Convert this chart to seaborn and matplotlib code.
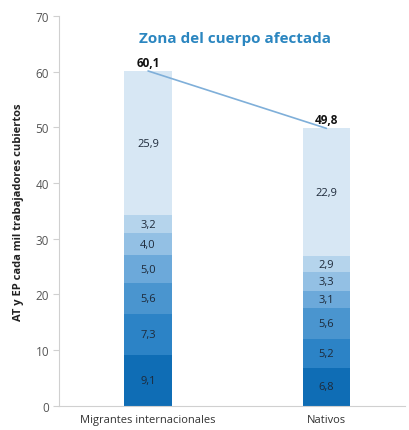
import numpy as np
import pandas as pd
import matplotlib
matplotlib.use("Agg")
import matplotlib.pyplot as plt
import seaborn as sns

categories = ["Migrantes internacionales", "Nativos"]
# segments from bottom to top
migrantes = [9.1, 7.3, 5.6, 5.0, 4.0, 3.2, 25.9]
nativos = [6.8, 5.2, 5.6, 3.1, 3.3, 2.9, 22.9]
totales = [60.1, 49.8]
seg_labels_m = ["9,1", "7,3", "5,6", "5,0", "4,0", "3,2", "25,9"]
seg_labels_n = ["6,8", "5,2", "5,6", "3,1", "3,3", "2,9", "22,9"]
total_labels = ["60,1", "49,8"]
colors = ["#0f6db5", "#2c83c6", "#4a95cf", "#6ca9da", "#93c0e4", "#b5d4ec", "#d7e7f4"]

sns.set_style("white")
plt.rcParams['font.family'] = ['Open Sans', 'DejaVu Sans']

fig = plt.figure(figsize=(4.09, 4.31), dpi=100)
ax = fig.add_axes([0.144, 0.056, 0.846, 0.905])

vals = np.array([migrantes, nativos])
cum = np.cumsum(vals, axis=1)
nseg = vals.shape[1]
bw = 0.265
for i in range(nseg - 1, -1, -1):
    df = pd.DataFrame({"cat": categories, "val": cum[:, i]})
    sns.barplot(data=df, x="cat", y="val", color=colors[i], saturation=1,
                width=bw, ax=ax, linewidth=0, edgecolor="none")

# segment labels
for j, labs in enumerate([seg_labels_m, seg_labels_n]):
    for i in range(nseg):
        mid = cum[j, i] - vals[j, i] / 2
        ax.text(j, mid, labs[i], ha="center", va="center", fontsize=8,
                color="#1e2a3a")
    ax.text(j, totales[j] + 0.4, total_labels[j], ha="center", va="bottom",
            fontsize=8.5, fontweight="bold", color="#111111")

# connecting line
sns.lineplot(x=[0, 1], y=totales, ax=ax, color="#7fafd9", linewidth=1.2)

ax.set_ylim(0, 70)
ax.set_xlim(-0.5, 1.44)
ax.set_yticks(range(0, 71, 10))
ax.tick_params(axis="y", length=4, color="#d0d0d0", labelsize=8.5, labelcolor="#555555", left=True, pad=3)
ax.tick_params(axis="x", length=0, labelsize=8, labelcolor="#333333", pad=6)
ax.set_xlabel("")
ax.set_ylabel("AT y EP cada mil trabajadores cubiertos", fontsize=8, fontweight="bold",
              color="#222222", labelpad=8)
for s in ["top", "right"]:
    ax.spines[s].set_visible(False)
for s in ["left", "bottom"]:
    ax.spines[s].set_color("#d0d0d0")
    ax.spines[s].set_linewidth(0.8)

ax.text(0.51, 0.944, "Zona del cuerpo afectada", transform=ax.transAxes, ha="center",
        va="center", fontsize=11, fontweight="bold", color="#2b86c0")
ax.set_title("")

fig.savefig("out.png", dpi=100)
